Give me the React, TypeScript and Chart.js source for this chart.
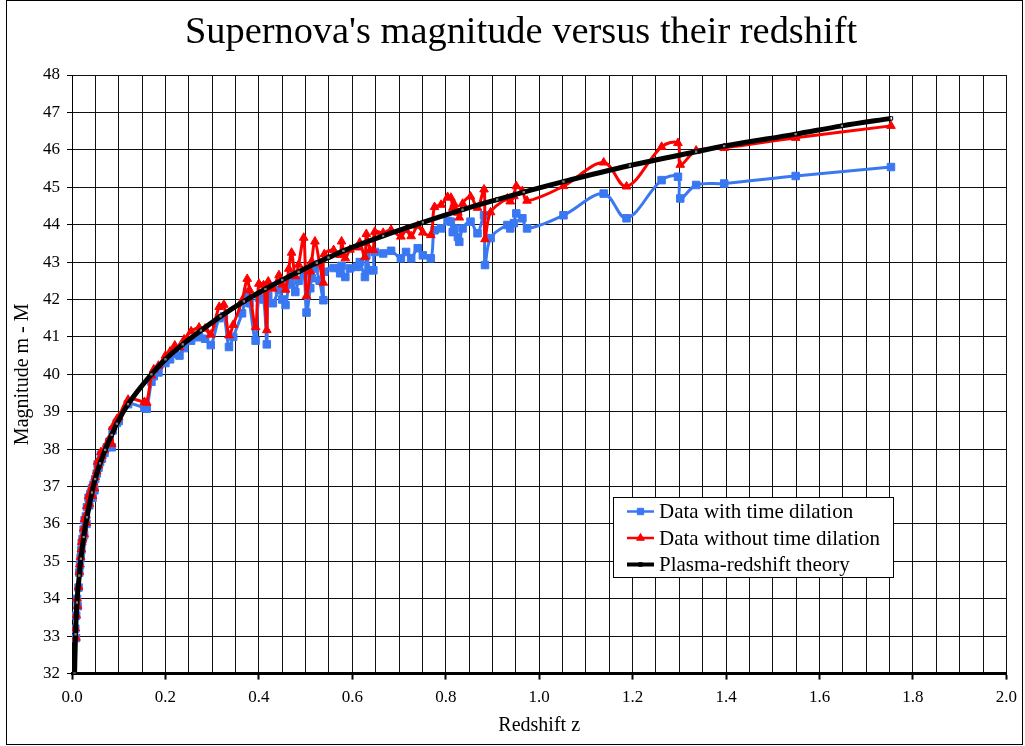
import React, { useEffect, useRef } from 'react';
import { Chart, registerables } from 'chart.js';

Chart.register(...registerables);

const TITLE = "Supernova's magnitude versus their redshift";
const X_TITLE = 'Redshift z';
const Y_TITLE = 'Magnitude m - M';
const SERIES_LABELS = ['Data with time dilation', 'Data without time dilation', 'Plasma-redshift theory'];
const X_MIN = 0;
const X_MAX = 2;
const X_STEP = 0.05;
const Y_MIN = 32;
const Y_MAX = 48;
const Y_STEP = 1;

const REDSHIFT: number[] = [
  0.007, 0.0085, 0.009, 0.0107, 0.012, 0.014, 0.0156, 0.017, 0.0185, 0.02,
  0.021, 0.0227, 0.0249, 0.026, 0.027, 0.0298, 0.031, 0.032, 0.0355, 0.037,
  0.039, 0.0426, 0.044, 0.046, 0.048, 0.0496, 0.053, 0.055, 0.0567, 0.06,
  0.062, 0.064, 0.0695, 0.0745, 0.08, 0.085, 0.087, 0.096, 0.1, 0.12,
  0.155, 0.16, 0.17, 0.175, 0.185, 0.2, 0.21, 0.22, 0.23, 0.24,
  0.255, 0.272, 0.285, 0.297, 0.315, 0.325, 0.336, 0.345, 0.364, 0.375,
  0.38, 0.393, 0.4, 0.41, 0.417, 0.42, 0.43, 0.443, 0.45, 0.457,
  0.464, 0.47, 0.478, 0.485, 0.496, 0.502, 0.51, 0.513, 0.52, 0.53,
  0.538, 0.54, 0.56, 0.574, 0.577, 0.585, 0.595, 0.61, 0.616, 0.627,
  0.63, 0.638, 0.645, 0.648, 0.666, 0.683, 0.704, 0.715, 0.726, 0.74,
  0.751, 0.768, 0.776, 0.79, 0.804, 0.811, 0.815, 0.818, 0.826, 0.829,
  0.836, 0.853, 0.868, 0.882, 0.884, 0.896, 0.932, 0.938, 0.946, 0.951,
  0.964, 0.974, 1.052, 1.138, 1.187, 1.262, 1.297, 1.302, 1.336, 1.396,
  1.549, 1.753,
];

const WITH_DILATION: number[] = [
  33.2, 32.95, 33.55, 34.0, 33.8, 34.3, 34.7, 34.9, 35.1, 35.3,
  35.5, 35.6, 35.85, 35.7, 36.1, 36.2, 36.0, 36.45, 36.7, 36.5,
  36.8, 36.95, 36.7, 37.05, 36.9, 37.2, 37.35, 37.6, 37.5, 37.65,
  37.85, 37.75, 37.9, 38.05, 38.2, 38.05, 38.5, 38.7, 38.75, 39.2,
  39.1, 39.08, 39.8, 39.95, 40.05, 40.3, 40.4, 40.55, 40.5, 40.7,
  40.9, 40.99, 40.95, 40.78, 41.5, 41.55, 40.73, 41.0, 41.63, 42.2,
  41.9, 40.9, 42.05, 42.0, 40.8, 42.1, 41.9, 42.25, 42.0, 41.85,
  42.4, 42.65, 42.2, 42.5, 42.7, 41.65, 42.3, 42.57, 42.83, 42.5,
  41.98, 42.74, 42.84, 42.7, 42.9, 42.6, 42.83, 42.87, 43.0, 42.6,
  43.18, 42.78, 42.78, 43.27, 43.23, 43.3, 43.1, 43.27, 43.1, 43.37,
  43.18, 43.1, 43.85, 43.9, 44.1, 44.08, 43.8, 43.9, 43.67, 43.54,
  43.9, 44.08, 43.77, 44.25, 42.92, 43.64, 43.99, 43.9, 44.04, 44.3,
  44.17, 43.9, 44.25, 44.83, 44.17, 45.19, 45.28, 44.7, 45.06, 45.1,
  45.3, 45.54,
];

const WITHOUT_DILATION: number[] = [
  33.21, 32.96, 33.56, 34.01, 33.81, 34.32, 34.72, 34.92, 35.12, 35.32,
  35.52, 35.62, 35.88, 35.73, 36.13, 36.23, 36.03, 36.48, 36.74, 36.54,
  36.84, 36.99, 36.75, 37.1, 36.95, 37.25, 37.41, 37.66, 37.56, 37.71,
  37.92, 37.82, 37.97, 38.13, 38.28, 38.14, 38.59, 38.8, 38.85, 39.32,
  39.26, 39.24, 39.97, 40.13, 40.23, 40.5, 40.61, 40.77, 40.72, 40.93,
  41.15, 41.25, 41.22, 41.06, 41.8, 41.86, 41.04, 41.32, 41.97, 42.55,
  42.25, 41.26, 42.42, 42.38, 41.18, 42.48, 42.29, 42.65, 42.4, 42.26,
  42.82, 43.25, 42.62, 42.93, 43.65, 42.09, 42.75, 43.02, 43.55, 42.96,
  42.45, 43.21, 43.32, 43.19, 43.55, 43.1, 43.33, 43.39, 43.52, 43.13,
  43.75, 43.32, 43.32, 43.81, 43.78, 43.86, 43.68, 43.86, 43.69, 43.97,
  43.79, 43.72, 44.47, 44.53, 44.74, 44.72, 44.45, 44.55, 44.32, 44.19,
  44.56, 44.75, 44.45, 44.94, 43.61, 44.33, 44.7, 44.62, 44.76, 45.03,
  44.9, 44.64, 45.03, 45.66, 45.02, 46.08, 46.18, 45.6, 45.98, 46.05,
  46.32, 46.64,
];

const THEORY_Z: number[] = [
  0.0055, 0.0075, 0.0106, 0.0156, 0.019, 0.025, 0.032, 0.0426, 0.0496, 0.06,
  0.071, 0.085, 0.096, 0.12, 0.17, 0.2, 0.237, 0.276, 0.318, 0.368,
  0.414, 0.45, 0.485, 0.524, 0.549, 0.581, 0.666, 0.751, 0.836, 0.91,
  0.967, 1.052, 1.194, 1.336, 1.396, 1.549, 1.648, 1.753,
];

const THEORY_M: number[] = [
  32.0, 33.05, 33.9, 34.62, 35.07, 35.65, 36.18, 36.84, 37.2, 37.62,
  37.98, 38.38, 38.68, 39.2, 40.0, 40.4, 40.8, 41.17, 41.55, 41.95,
  42.28, 42.52, 42.74, 42.98, 43.12, 43.3, 43.7, 44.06, 44.4, 44.67,
  44.87, 45.15, 45.58, 45.95, 46.1, 46.42, 46.64, 46.84,
];

const BLUE = '#3a78f2';
const RED = '#ff0000';
const BLACK = '#000000';
const SERIF = '"Liberation Serif", "Times New Roman", serif';

function drawMarker(ctx: CanvasRenderingContext2D, style: string, x: number, y: number, r: number) {
  ctx.beginPath();
  if (style === 'rect') {
    const s = r / Math.SQRT2;
    ctx.rect(x - s, y - s, 2 * s, 2 * s);
  } else if (style === 'triangle') {
    ctx.moveTo(x, y - r);
    ctx.lineTo(x + r * 0.866, y + r * 0.5);
    ctx.lineTo(x - r * 0.866, y + r * 0.5);
    ctx.closePath();
  }
  ctx.fill();
  ctx.stroke();
}

const framePlugin = {
  id: 'frame',
  beforeDraw(chart: any) {
    const ctx = chart.ctx as CanvasRenderingContext2D;
    ctx.save();
    ctx.fillStyle = '#ffffff';
    ctx.fillRect(0, 0, chart.width, chart.height);
    ctx.strokeStyle = '#000000';
    ctx.lineWidth = 1;
    ctx.strokeRect(6.5, 0.5, 1016, 744);
    ctx.fillStyle = '#000000';
    ctx.font = `38.4px ${SERIF}`;
    ctx.textAlign = 'center';
    ctx.textBaseline = 'alphabetic';
    ctx.fillText(TITLE, 521, 43);
    ctx.restore();
  },
};

const legendPlugin = {
  id: 'boxLegend',
  afterDraw(chart: any) {
    const ctx = chart.ctx as CanvasRenderingContext2D;
    const x0 = 613;
    const y0 = 497;
    const w = 280;
    const h = 80;
    ctx.save();
    ctx.fillStyle = '#ffffff';
    ctx.fillRect(x0, y0, w, h);
    ctx.strokeStyle = '#000000';
    ctx.lineWidth = 1;
    ctx.strokeRect(x0 + 0.5, y0 + 0.5, w, h);
    const styles = ['rect', 'triangle', 'rect'];
    const colors = [BLUE, RED, BLACK];
    const widths = [2.5, 2.5, 4];
    const radii = [4.5, 4.5, 2.5];
    SERIES_LABELS.forEach((label, i) => {
      const cy = y0 + 14.5 + i * 26.5;
      ctx.strokeStyle = colors[i];
      ctx.lineWidth = widths[i];
      ctx.beginPath();
      ctx.moveTo(627, cy);
      ctx.lineTo(654, cy);
      ctx.stroke();
      ctx.fillStyle = colors[i];
      ctx.lineWidth = 1;
      drawMarker(ctx, styles[i], 640.5, cy, radii[i]);
      ctx.fillStyle = '#000000';
      ctx.font = `21px ${SERIF}`;
      ctx.textBaseline = 'middle';
      ctx.textAlign = 'left';
      ctx.fillText(label, 659, cy + 1);
    });
    ctx.restore();
  },
};

function isMajorX(v: number) {
  return Math.abs(v * 5 - Math.round(v * 5)) < 1e-6;
}

export default function App() {
  const ref = useRef<HTMLCanvasElement>(null);

  useEffect(() => {
    document.body.style.margin = '0';
    const canvas = ref.current;
    if (!canvas) return;

    const blueData = REDSHIFT.map((z, i) => ({ x: z, y: WITH_DILATION[i] }));
    const redData = REDSHIFT.map((z, i) => ({ x: z, y: WITHOUT_DILATION[i] }));
    const theoryData = THEORY_Z.map((z, i) => ({ x: z, y: THEORY_M[i] }));

    const chart = new Chart(canvas, {
      type: 'line',
      data: {
        datasets: [
          {
            label: SERIES_LABELS[0],
            data: blueData,
            borderColor: BLUE,
            backgroundColor: BLUE,
            borderWidth: 3,
            pointStyle: 'rect',
            pointRadius: 5.3,
            pointBorderWidth: 1,
            pointBackgroundColor: BLUE,
            pointBorderColor: BLUE,
            tension: 0.35,
            fill: false,
            order: 2,
          },
          {
            label: SERIES_LABELS[1],
            data: redData,
            borderColor: RED,
            backgroundColor: RED,
            borderWidth: 3,
            pointStyle: 'triangle',
            pointRadius: 5,
            pointBorderWidth: 1,
            pointBackgroundColor: RED,
            pointBorderColor: RED,
            tension: 0.35,
            fill: false,
            order: 1,
          },
          {
            label: SERIES_LABELS[2],
            data: theoryData,
            borderColor: BLACK,
            backgroundColor: BLACK,
            borderWidth: 5,
            pointStyle: 'rect',
            pointRadius: 2.4,
            pointBorderWidth: 1,
            pointBackgroundColor: 'rgba(255,255,255,0.5)',
            pointBorderColor: BLACK,
            cubicInterpolationMode: 'monotone',
            fill: false,
            order: 0,
          },
        ],
      },
      options: {
        responsive: false,
        animation: false,
        events: [],
        devicePixelRatio: 1,
        layout: { padding: { left: 8, right: 13, top: 75, bottom: 0 } },
        plugins: {
          legend: { display: false },
          tooltip: { enabled: false },
          title: { display: false },
        },
        scales: {
          x: {
            type: 'linear',
            min: X_MIN,
            max: X_MAX,
            afterFit: (s: any) => {
              s.height = 72.4;
            },
            ticks: {
              stepSize: X_STEP,
              autoSkip: false,
              maxRotation: 0,
              minRotation: 0,
              color: '#000',
              padding: 8,
              font: { family: SERIF, size: 17 },
              callback: (v: any) => (isMajorX(Number(v)) ? Number(v).toFixed(1) : ''),
            },
            grid: {
              color: '#111',
              lineWidth: 1,
              drawTicks: true,
              tickLength: 6,
              tickWidth: 2,
              tickColor: (c: any) => (c.tick && isMajorX(c.tick.value) ? '#000' : 'rgba(0,0,0,0)'),
            },
            border: { color: '#000', width: 3 },
            title: {
              display: true,
              text: X_TITLE,
              color: '#000',
              font: { family: SERIF, size: 20 },
              padding: { top: 0, bottom: 8 },
            },
          },
          y: {
            type: 'linear',
            min: Y_MIN,
            max: Y_MAX,
            afterFit: (s: any) => {
              s.width = 64;
            },
            ticks: {
              stepSize: Y_STEP,
              color: '#000',
              padding: 7,
              font: { family: SERIF, size: 17 },
              callback: (v: any) => String(Math.round(Number(v))),
            },
            grid: {
              color: '#111',
              lineWidth: 1,
              drawTicks: true,
              tickLength: 5,
              tickColor: '#000',
            },
            border: { color: '#000', width: 1 },
            title: {
              display: true,
              text: Y_TITLE,
              color: '#000',
              font: { family: SERIF, size: 20 },
              padding: { top: 3, bottom: 0 },
            },
          },
        },
      },
      plugins: [framePlugin, legendPlugin],
    } as any);

    return () => chart.destroy();
  }, []);

  return <canvas ref={ref} width={1025} height={746} style={{ display: 'block' }} />;
}
